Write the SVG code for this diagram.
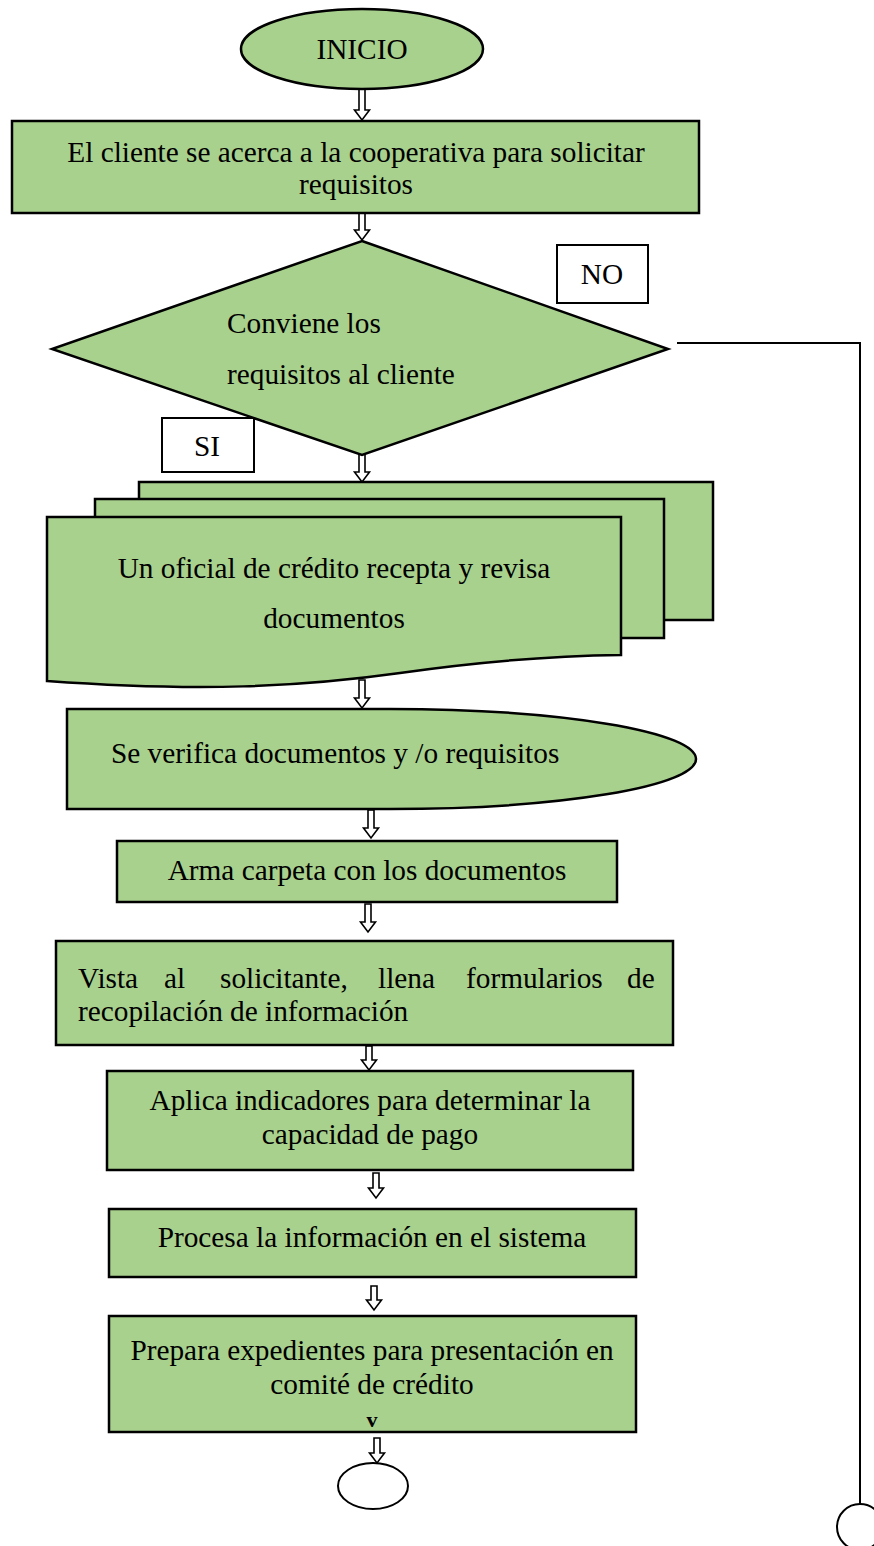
<svg xmlns="http://www.w3.org/2000/svg" width="874" height="1546" viewBox="0 0 874 1546">
<style>
.sh{fill:#A9D18E;stroke:#000;stroke-width:2.5}
.bx{fill:#fff;stroke:#000;stroke-width:2}
.ln{fill:none;stroke:#000;stroke-width:2}
.arr{fill:#fff;stroke:#000;stroke-width:1.6;stroke-linejoin:miter}
text{font-family:"Liberation Serif","Times New Roman",serif;font-size:29.3px;fill:#000}
.c{text-anchor:middle}
</style>
<rect width="874" height="1546" fill="#fff"/>
<g id="connectors">
<path class="arr" d="M359,89 V110 H354.5 L362,120 L369.5,110 H365 V89 Z"/>
<path class="arr" d="M359,210 V230 H354.5 L362,240 L369.5,230 H365 V210 Z"/>
<path class="arr" d="M359,452 V472 H354.5 L362,482 L369.5,472 H365 V452 Z"/>
<path class="arr" d="M359,680 V698 H354.5 L362,708 L369.5,698 H365 V680 Z"/>
<path class="arr" d="M368,810 V828 H363.5 L371,838 L378.5,828 H374 V810 Z"/>
<path class="arr" d="M365,904 V922 H360.5 L368,932 L375.5,922 H371 V904 Z"/>
<path class="arr" d="M366,1046 V1060 H361.5 L369,1070 L376.5,1060 H372 V1046 Z"/>
<path class="arr" d="M373,1173 V1188 H368.5 L376,1198 L383.5,1188 H379 V1173 Z"/>
<path class="arr" d="M371,1286 V1300 H366.5 L374,1310 L381.5,1300 H377 V1286 Z"/>
<path class="arr" d="M374,1438 V1453 H369.5 L377,1463 L384.5,1453 H380 V1438 Z"/>
<path class="ln" d="M677,343 H860 V1504"/>
</g>
<g id="inicio">
<ellipse class="sh" cx="362" cy="49" rx="121" ry="40"/>
<text class="c" x="362" y="59">INICIO</text>
</g>
<g id="n1">
<rect class="sh" x="12" y="121" width="687" height="92"/>
<text class="c" x="356" y="162">El cliente se acerca a la cooperativa para solicitar</text>
<text class="c" x="356" y="194">requisitos</text>
</g>
<g id="decision">
<polygon class="sh" points="362,241 668,349 362,455 52,349"/>
<text x="227" y="333">Conviene los</text>
<text x="227" y="384">requisitos al cliente</text>
</g>
<g id="no">
<rect class="bx" x="557" y="245" width="91" height="58"/>
<text class="c" x="602" y="284">NO</text>
</g>
<g id="si">
<rect class="bx" x="162" y="418" width="92" height="54"/>
<text class="c" x="207" y="456">SI</text>
</g>
<g id="documentos">
<rect class="sh" x="139" y="482" width="574" height="138"/>
<rect class="sh" x="95" y="499" width="569" height="139"/>
<path class="sh" d="M47,517 H621 V655 C540,656 470,663 400,673 C300,687 200,692 47,681 Z"/>
<text class="c" x="334" y="578">Un oficial de crédito recepta y revisa</text>
<text class="c" x="334" y="628">documentos</text>
</g>
<g id="verifica">
<path class="sh" d="M67,709 H390 A306,50 0 0 1 696,759 A306,50 0 0 1 390,809 H67 Z"/>
<text x="111" y="763">Se verifica documentos y /o requisitos</text>
</g>
<g id="carpeta">
<rect class="sh" x="117" y="841" width="500" height="61"/>
<text class="c" x="367" y="880">Arma carpeta con los documentos</text>
</g>
<g id="vista">
<rect class="sh" x="56" y="941" width="617" height="104"/>
<text y="988"><tspan x="78">Vista</tspan><tspan x="164">al</tspan><tspan x="220">solicitante,</tspan><tspan x="378">llena</tspan><tspan x="466">formularios</tspan><tspan x="627">de</tspan></text>
<text x="78" y="1021">recopilación de información</text>
</g>
<g id="aplica">
<rect class="sh" x="107" y="1071" width="526" height="99"/>
<text class="c" x="370" y="1110">Aplica indicadores para determinar la</text>
<text class="c" x="370" y="1144">capacidad de pago</text>
</g>
<g id="procesa">
<rect class="sh" x="109" y="1209" width="527" height="68"/>
<text class="c" x="372" y="1247">Procesa la información en el sistema</text>
</g>
<g id="prepara">
<rect class="sh" x="109" y="1316" width="527" height="116"/>
<text class="c" x="372" y="1360">Prepara expedientes para presentación en</text>
<text class="c" x="372" y="1394">comité de crédito</text>
<text class="c" x="372" y="1427" style="font-size:22px;font-weight:bold">v</text>
</g>
<g id="fin">
<ellipse class="ln" cx="373" cy="1486" rx="35" ry="23"/>
</g>
<g id="conector">
<circle class="ln" cx="860" cy="1527" r="23"/>
</g>
</svg>
